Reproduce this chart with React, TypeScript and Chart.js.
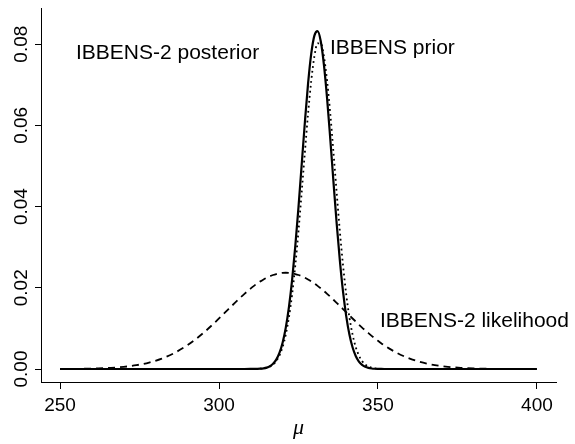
import React, { useEffect, useRef } from "react";
import { Chart, registerables } from "chart.js";

Chart.register(...registerables);

// mu grid (x values)
const MU = [
  250, 254, 258, 262, 266, 270, 274, 278, 282, 286, 290, 293, 296, 299, 302, 304, 306, 308,
  310, 311, 312, 313, 314, 315, 316, 317, 318, 319, 320, 321, 322, 323, 324, 325, 326, 327,
  328, 329, 330, 331, 332, 333, 334, 335, 336, 337, 338, 339, 340, 341, 342, 343, 344, 345,
  346, 347, 348, 349, 350, 351, 352,
  354, 356, 358, 360, 363, 366, 369, 372, 376, 380, 384, 388, 392, 396, 400,
];

// IBBENS-2 posterior (solid)
const POSTERIOR = [
  0, 0, 0, 0, 0, 0, 0, 0, 0, 0, 0, 0, 0, 0, 0, 0, 0, 0,
  0.00001, 0.00002, 0.00004, 0.00008, 0.00017, 0.00035, 0.00069, 0.00129, 0.00231, 0.00396,
  0.00649, 0.01019, 0.0153, 0.022, 0.0303, 0.0399, 0.0503, 0.0607, 0.0702, 0.0776, 0.0821,
  0.0832, 0.0807, 0.0749, 0.0666, 0.0566, 0.0461, 0.0359, 0.0268, 0.0191, 0.0131, 0.00855,
  0.00535, 0.00321, 0.00184, 0.00101, 0.00053, 0.00027, 0.00013, 0.00006, 0.00003, 0.00001, 0,
  0, 0, 0, 0, 0, 0, 0, 0, 0, 0, 0, 0, 0, 0, 0,
];

// IBBENS prior (dotted)
const PRIOR = [
  0, 0, 0, 0, 0, 0, 0, 0, 0, 0, 0, 0, 0, 0, 0, 0, 0, 0,
  0.00001, 0.00002, 0.00003, 0.00008, 0.00016, 0.00031, 0.0006, 0.0011, 0.00196, 0.00332,
  0.00542, 0.0085, 0.0128, 0.01845, 0.0256, 0.034, 0.0435, 0.0533, 0.0628, 0.0709, 0.077,
  0.0802, 0.0802, 0.077, 0.0709, 0.0628, 0.0533, 0.0435, 0.034, 0.0256, 0.01845, 0.0128,
  0.0085, 0.00542, 0.00332, 0.00196, 0.0011, 0.0006, 0.00031, 0.00016, 0.00008, 0.00003, 0.00002,
  0, 0, 0, 0, 0, 0, 0, 0, 0, 0, 0, 0, 0, 0, 0,
];

// IBBENS-2 likelihood (dashed)
const LIKELIHOOD = [
  0.000015, 0.000034, 0.000072, 0.000146, 0.000285, 0.00053, 0.00094, 0.00159, 0.00257, 0.00396,
  0.00582, 0.00754, 0.00951, 0.01169, 0.01399, 0.01554, 0.01706, 0.01851,
  0.01986, 0.02048, 0.02106, 0.02158, 0.02206, 0.02249, 0.02285, 0.02315, 0.02339, 0.02356,
  0.02367, 0.0237, 0.02367, 0.02356, 0.02339, 0.02315, 0.02285, 0.02249, 0.02206, 0.02158,
  0.02106, 0.02048, 0.01986, 0.0192, 0.01851, 0.0178, 0.01706, 0.0163, 0.01554, 0.01476,
  0.01399, 0.01321, 0.01244, 0.01169, 0.01094, 0.01021, 0.00951, 0.00883, 0.00817, 0.00754,
  0.00694, 0.00636, 0.00582,
  0.00483, 0.00396, 0.00321, 0.00257, 0.0018, 0.00123, 0.00082, 0.00053, 0.000285, 0.000146,
  0.000072, 0.000034, 0.000015, 0.000006, 0.000003,
];

const X_TICKS = [250, 300, 350, 400];
const Y_TICKS = [0, 0.02, 0.04, 0.06, 0.08];

const TEXT_LABELS = [
  { text: "IBBENS-2 posterior", x: 255.0, y: 0.0764 },
  { text: "IBBENS prior", x: 334.9, y: 0.0775 },
  { text: "IBBENS-2 likelihood", x: 350.6, y: 0.0104 },
];

const SANS = "'Liberation Sans', Arial, Helvetica, sans-serif";

const labelPlugin = {
  id: "curveLabels",
  afterDatasetsDraw(chart: any) {
    const { ctx, scales } = chart;
    ctx.save();
    ctx.fillStyle = "#000";
    ctx.font = `21px ${SANS}`;
    ctx.textAlign = "left";
    ctx.textBaseline = "alphabetic";
    for (const l of TEXT_LABELS) {
      ctx.fillText(l.text, scales.x.getPixelForValue(l.x), scales.y.getPixelForValue(l.y));
    }
    ctx.restore();
  },
};

export default function App() {
  const ref = useRef<HTMLCanvasElement | null>(null);

  useEffect(() => {
    if (!ref.current) return;
    const mk = (ys: number[]) => MU.map((x, i) => ({ x, y: ys[i] }));
    const chart = new Chart(ref.current, {
      type: "line",
      data: {
        datasets: [
          {
            label: "IBBENS-2 posterior",
            data: mk(POSTERIOR),
            borderColor: "#000",
            borderWidth: 2.2,
            pointRadius: 0,
            fill: false,
            cubicInterpolationMode: "monotone",
          },
          {
            label: "IBBENS prior",
            data: mk(PRIOR),
            borderColor: "#000",
            borderWidth: 1.8,
            borderDash: [1.8, 3.2],
            pointRadius: 0,
            fill: false,
            cubicInterpolationMode: "monotone",
          },
          {
            label: "IBBENS-2 likelihood",
            data: mk(LIKELIHOOD),
            borderColor: "#000",
            borderWidth: 1.8,
            borderDash: [7, 5],
            pointRadius: 0,
            fill: false,
            cubicInterpolationMode: "monotone",
          },
        ],
      },
      options: {
        responsive: false,
        animation: false,
        events: [],
        layout: { padding: { left: 0, right: 19, top: 8, bottom: 0 } },
        plugins: { legend: { display: false }, tooltip: { enabled: false } },
        scales: {
          x: {
            type: "linear",
            min: 244,
            max: 406,
            afterBuildTicks: (s: any) => {
              s.ticks = X_TICKS.map((v) => ({ value: v }));
            },
            afterFit: (s: any) => {
              s.height = 62;
            },
            grid: { drawOnChartArea: false, drawTicks: true, tickLength: 7, color: "#000", lineWidth: 1 },
            border: { display: true, color: "#000", width: 1 },
            ticks: {
              color: "#000",
              font: { family: SANS, size: 19 },
              padding: 5,
              minRotation: 0,
              maxRotation: 0,
              autoSkip: false,
              callback: (v: any) => String(v),
            },
            title: {
              display: true,
              text: "μ",
              color: "#000",
              font: { family: "'Liberation Serif', 'DejaVu Serif', serif", size: 22, style: "italic" },
              padding: { top: 0, bottom: 3 },
            },
          },
          y: {
            type: "linear",
            min: -0.0032,
            max: 0.0889,
            afterBuildTicks: (s: any) => {
              s.ticks = Y_TICKS.map((v) => ({ value: v }));
            },
            afterFit: (s: any) => {
              s.width = 41;
            },
            grid: { drawOnChartArea: false, drawTicks: true, tickLength: 6, color: "#000", lineWidth: 1 },
            border: { display: true, color: "#000", width: 1 },
            ticks: {
              color: "#000",
              font: { family: SANS, size: 19, lineHeight: 1 },
              padding: -5,
              minRotation: 90,
              maxRotation: 90,
              crossAlign: "center",
              autoSkip: false,
              callback: (v: any) => Number(v).toFixed(2),
            },
          },
        },
      },
      plugins: [labelPlugin],
    } as any);
    return () => chart.destroy();
  }, []);

  return (
    <div style={{ position: "absolute", left: 0, top: 0, width: 575, height: 444, background: "#fff" }}>
      <canvas ref={ref} width={575} height={444} style={{ display: "block" }} />
    </div>
  );
}
